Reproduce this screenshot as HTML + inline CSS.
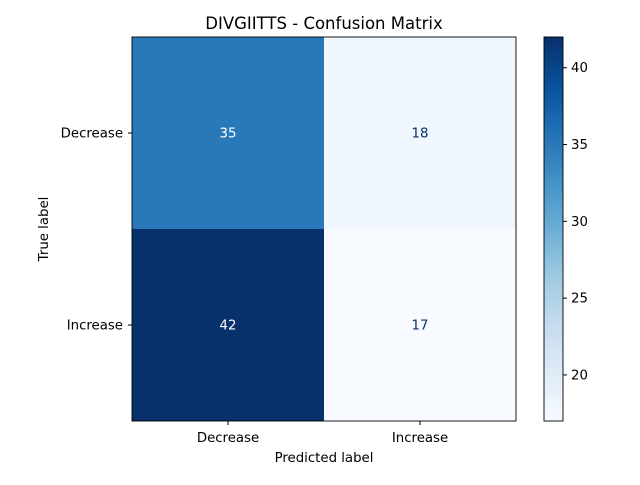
<!DOCTYPE html>
<html><head><meta charset="utf-8"><style>
body{margin:0;background:#fff}
text{font-family:"DejaVu Sans","Liberation Sans",sans-serif;}
</style></head><body>
<svg id="chart" width="640" height="480" xmlns="http://www.w3.org/2000/svg">
<defs>
<linearGradient id="blues" x1="0" y1="1" x2="0" y2="0">
<stop offset="0" stop-color="#f7fbff"/>
<stop offset="0.125" stop-color="#deebf7"/>
<stop offset="0.25" stop-color="#c6dbef"/>
<stop offset="0.375" stop-color="#9ecae1"/>
<stop offset="0.5" stop-color="#6baed6"/>
<stop offset="0.625" stop-color="#4292c6"/>
<stop offset="0.75" stop-color="#2171b5"/>
<stop offset="0.875" stop-color="#08519c"/>
<stop offset="1" stop-color="#08306b"/>
</linearGradient>
</defs>
<text x="324" y="29" font-size="16.5" text-anchor="middle">DIVGIITTS - Confusion Matrix</text>
<g id="cells"></g>
<rect x="132" y="37" width="384" height="384" fill="none" stroke="#000" stroke-width="0.9"/>
<g id="axes"></g>
<text x="324" y="462" font-size="13.3" text-anchor="middle">Predicted label</text>
<text transform="translate(48,229) rotate(-90)" font-size="13.3" text-anchor="middle">True label</text>
<rect x="544" y="37" width="19" height="384" fill="url(#blues)" stroke="#000" stroke-width="0.9"/>
<g id="cbar"></g>
</svg>
<script>
const categories=["Decrease","Increase"];
const matrix=[[35,18],[42,17]];
const cbarTicks=[20,25,30,35,40];
const vmin=17, vmax=42;
const stops=[[0,[247,251,255]],[0.125,[222,235,247]],[0.25,[198,219,239]],[0.375,[158,202,225]],[0.5,[107,174,214]],[0.625,[66,146,198]],[0.75,[33,113,181]],[0.875,[8,81,156]],[1,[8,48,107]]];
function cmap(v){let t=(v-vmin)/(vmax-vmin);t=Math.max(0,Math.min(1,t));
for(let i=1;i<stops.length;i++){if(t<=stops[i][0]){const a=stops[i-1],b=stops[i];const f=(t-a[0])/(b[0]-a[0]);
return 'rgb('+a[1].map((c,k)=>Math.round(c+(b[1][k]-c)*f)).join(',')+')';}}return 'rgb(8,48,107)';}
const NS="http://www.w3.org/2000/svg";
const X0=132,Y0=37,S=384,n=categories.length,cw=S/n;
const cells=document.getElementById('cells'),axes=document.getElementById('axes'),cb=document.getElementById('cbar');
function mk(tag,attrs,parent,txt){const e=document.createElementNS(NS,tag);for(const k in attrs)e.setAttribute(k,attrs[k]);if(txt!==undefined)e.textContent=txt;parent.appendChild(e);return e;}
const mid=(vmin+vmax)/2;
matrix.forEach((row,i)=>row.forEach((v,j)=>{
const r=mk('rect',{x:X0+j*cw,y:Y0+i*cw,width:cw,height:cw,fill:cmap(v)},cells);


const t=mk('text',{x:X0+j*cw+cw/2,y:Y0+i*cw+cw/2+4.5,'font-size':13.3,'text-anchor':'middle',fill:v>mid?'#fff':'#08306b'},cells,String(v));


}));
categories.forEach((c,j)=>{
const x=X0+j*cw+cw/2;
mk('line',{x1:x,x2:x,y1:Y0+S,y2:Y0+S+4,stroke:'#000'},axes);
const t=mk('text',{x:x,y:Y0+S+21,'font-size':13.3,'text-anchor':'middle'},axes,c);


const y=Y0+j*cw+cw/2;
mk('line',{x1:X0-4,x2:X0,y1:y,y2:y,stroke:'#000'},axes);
const t2=mk('text',{x:X0-9,y:y+4.5,'font-size':13.3,'text-anchor':'end'},axes,c);


});
cbarTicks.forEach(v=>{
const y=Y0+S-(v-vmin)/(vmax-vmin)*S;
mk('line',{x1:563,x2:567,y1:y,y2:y,stroke:'#000'},cb);
const t=mk('text',{x:571,y:y+4.5,'font-size':13.3},cb,String(v));


});
</script>
</body></html>
